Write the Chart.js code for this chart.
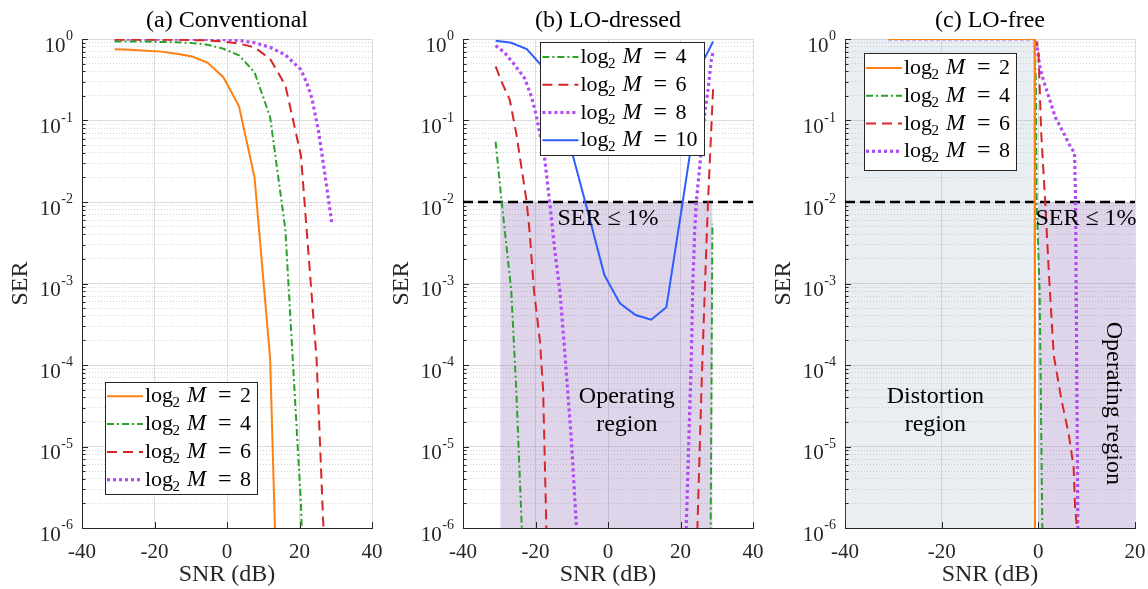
<!DOCTYPE html>
<html>
<head>
<meta charset="utf-8">
<script src="https://cdn.jsdelivr.net/npm/chart.js@4.4.1/dist/chart.umd.min.js"></script>
<style>
  html, body { margin: 0; padding: 0; background: #fff; overflow: hidden; }
  #wrap { position: relative; width: 1148px; height: 589px; }
  canvas { position: absolute; top: 0; }
</style>
</head>
<body>
<div id="wrap">
  <canvas id="chartA" width="392" height="589" style="left:0px"></canvas>
  <canvas id="chartB" width="392" height="589" style="left:381px"></canvas>
  <canvas id="chartC" width="385" height="589" style="left:763px"></canvas>
</div>
<script>
// SNR grid (dB) shared by most simulated curves
const snrGrid = [-31, -26.7, -22.4, -18.1, -13.9, -9.6, -5.3, -1, 3.3, 7.6, 11.9, 16.1, 20.4, 24.7, 29];

// (a) Conventional
const convSer2 = [0.75, 0.74, 0.72, 0.70, 0.66, 0.61, 0.51, 0.34, 0.15, 0.02, 1.2e-4, 3e-11, null, null, null];
const convSer4 = [0.93, 0.93, 0.93, 0.92, 0.91, 0.89, 0.85, 0.76, 0.63, 0.39, 0.11, 0.0046, 2e-6, 1e-12, null];
const convSer6 = [0.98, 0.98, 0.98, 0.98, 0.98, 0.97, 0.96, 0.93, 0.88, 0.79, 0.57, 0.27, 0.037, 1.2e-4, 2.5e-9];
const convSnr8 = [-31, -26.7, -22.4, -18.1, -13.9, -9.6, -5.3, -1, 3.3, 7.6, 11.9, 16.1, 20.4, 22, 23.4, 25.2, 27, 29];
const convSer8 = [0.995, 0.995, 0.995, 0.995, 0.995, 0.995, 0.99, 0.985, 0.96, 0.90, 0.79, 0.64, 0.42, 0.29, 0.19, 0.076, 0.022, 0.0052];

// (b) LO-dressed
const dressSnr4 = [-31, -29.4, -26.7, -25.3, -22.4, 0, 28.2, 28.8];
const dressSer4 = [0.055, 0.0107, 8.3e-4, 4.9e-5, 3e-8, null, 1e-7, 0.0054];
const dressSnr6 = [-31, -29, -27.1, -25.3, -23.9, -22.5, -21.6, -20.4, -18.8, -17.9, -17.0, -16.3, 0, 23.4, 24.7, 25.8, 26.7, 27.6, 29];
const dressSer6 = [0.46, 0.275, 0.18, 0.069, 0.027, 0.0105, 0.0042, 8e-4, 2e-4, 5e-5, 1e-6, 1e-8, null, 1e-8, 1.15e-6, 5.4e-5, 8.3e-4, 0.0105, 0.25];
const dressSnr8 = [-31, -28.5, -26.2, -23, -21.1, -19.8, -17.5, -16.1, -14.7, -13.3, -12, -10.1, -8.7, -7.5, 0,
                   20.5, 21.6, 22.3, 23, 23.4, 23.9, 24.4, 25.1, 25.8, 26.7, 27.6, 28.5, 29];
const dressSer8 = [0.83, 0.68, 0.51, 0.33, 0.195, 0.117, 0.035, 0.01, 2.6e-3, 8.3e-4, 1.6e-4, 1.2e-5, 1e-6, 3e-8, null,
                   1e-8, 1.1e-6, 1.2e-5, 1.3e-4, 1e-3, 4.2e-3, 0.0105, 0.022, 0.048, 0.123, 0.24, 0.55, 0.70];
const dressSnr10 = [-31, -26.7, -22.4, -18.1, -13.9, -9.6, -5.3, -1, 3.3, 7.6, 11.9, 16.1, 20.4, 24.7, 26.4, 29];
const dressSer10 = [0.95, 0.90, 0.75, 0.46, 0.14, 0.036, 0.0069, 0.00127, 5.7e-4, 4.1e-4, 3.6e-4, 5.1e-4, 0.0087, 0.16, 0.55, 0.93];

// (c) LO-free
const freeSnr2 = [-31, -0.8, -0.7];
const freeSer2 = [1, 1, 1e-9];
const freeSnr4 = [-31, -0.8, -0.5, -0.35, 0.27, 0.83, 0.95];
const freeSer4 = [1, 1, 0.3, 0.01, 8e-4, 1e-6, 1e-7];
const freeSnr6 = [-31, -0.8, 0, 0.6, 1.4, 2.3, 3.2, 4.8, 6.3, 7.3, 7.6, 8.0, 8.3];
const freeSer6 = [1, 1, 0.77, 0.07, 0.0105, 1e-3, 1.3e-4, 3.7e-5, 1.4e-5, 5.6e-6, 1.8e-6, 1e-6, 1e-8];
const freeSnr8 = [-31, -0.5, 0.3, 1.0, 3.5, 5.3, 6.6, 7.5, 7.7, 8.3];
const freeSer8 = [1, 1, 0.46, 0.32, 0.11, 0.069, 0.048, 0.04, 0.01, 1e-7];

// shaded regions and threshold
const serTarget = 1e-2;
const serLimits = [1e-6, 1e-2];
const serFull = [1e-6, 1];
const dressRegionSnr = [-29.7, 28.8];
const freeDistortionSnr = [-40, -1.2];
const freeOperatingSnr = [0, 20];

const serif = "'Liberation Serif', 'Times New Roman', serif";
const axisColor = '#262626';

const styles = {
    2: { color: '#ff8012', width: 2, dash: [] },
    4: { color: '#2ca02c', width: 2, dash: [7, 3, 2, 3] },
    6: { color: '#d62728', width: 2, dash: [10, 6] },
    8: { color: '#b24bf3', width: 3.2, dash: [3, 3] },
    10: { color: '#2d5cff', width: 2, dash: [] }
};

function series(order, xs, ys) {
    const s = styles[order];
    return {
        label: String(order),
        data: xs.map((x, i) => ({ x: x, y: ys[i] })),
        borderColor: s.color,
        borderWidth: s.width,
        borderDash: s.dash,
        borderCapStyle: 'butt',
        pointRadius: 0,
        tension: 0,
        fill: false,
        spanGaps: false
    };
}

function isDecade(v) {
    const l = Math.log10(v);
    return Math.abs(l - Math.round(l)) < 1e-9;
}

// regions, threshold, inner ticks, notes, y tick labels, legend
const extras = {
    id: 'extras',
    beforeDatasetsDraw(chart, args, opts) {
        const { ctx, chartArea: a, scales: { x, y } } = chart;
        ctx.save();
        ctx.beginPath();
        ctx.rect(a.left, a.top, a.right - a.left, a.bottom - a.top);
        ctx.clip();
        (opts.regions || []).forEach(r => {
            const x0 = x.getPixelForValue(r.x[0]), x1 = x.getPixelForValue(r.x[1]);
            const y0 = y.getPixelForValue(r.y[0]), y1 = y.getPixelForValue(r.y[1]);
            ctx.fillStyle = r.color;
            ctx.fillRect(x0, y1, x1 - x0, y0 - y1);
        });
        ctx.restore();

        ctx.save();
        ctx.strokeStyle = axisColor;
        ctx.lineWidth = 1;
        y.ticks.forEach(t => {
            const py = Math.round(y.getPixelForValue(t.value)) + 0.5;
            ctx.beginPath();
            ctx.moveTo(a.left, py);
            ctx.lineTo(a.left + (t.major ? 6 : 3.5), py);
            ctx.stroke();
        });
        x.ticks.forEach(t => {
            const px = Math.round(x.getPixelForValue(t.value)) + 0.5;
            ctx.beginPath();
            ctx.moveTo(px, a.bottom);
            ctx.lineTo(px, a.bottom - 6);
            ctx.stroke();
        });
        if (opts.threshold) {
            const py = y.getPixelForValue(opts.threshold);
            ctx.strokeStyle = '#000';
            ctx.lineWidth = 2.5;
            ctx.setLineDash([10, 5]);
            ctx.beginPath();
            ctx.moveTo(a.left, py);
            ctx.lineTo(a.right, py);
            ctx.stroke();
        }
        ctx.restore();
    },
    afterDatasetsDraw(chart, args, opts) {
        const { ctx, scales: { x, y } } = chart;
        ctx.save();
        ctx.fillStyle = '#000';
        ctx.font = '24px ' + serif;
        ctx.textBaseline = 'middle';
        (opts.notes || []).forEach(n => {
            const px = x.getPixelForValue(n.x), py = y.getPixelForValue(n.y);
            ctx.save();
            ctx.translate(px, py);
            if (n.rotate) ctx.rotate(n.rotate);
            ctx.textAlign = n.align || 'center';
            const lh = 28.5;
            n.lines.forEach((line, i) => {
                ctx.fillText(line, 0, (i - (n.lines.length - 1) / 2) * lh);
            });
            ctx.restore();
        });
        ctx.restore();
    },
    afterDraw(chart, args, opts) {
        const { ctx, chartArea: a, scales: { y } } = chart;
        // y tick labels 10^k
        ctx.save();
        ctx.fillStyle = axisColor;
        ctx.textBaseline = 'alphabetic';
        y.ticks.filter(t => t.major).forEach(t => {
            const py = y.getPixelForValue(t.value);
            const exp = String(Math.round(Math.log10(t.value)));
            ctx.font = '14px ' + serif;
            const wExp = ctx.measureText(exp).width;
            const xEnd = a.left - 9;
            ctx.textAlign = 'left';
            ctx.fillText(exp, xEnd - wExp, py + 1);
            ctx.font = '21px ' + serif;
            ctx.textAlign = 'right';
            ctx.fillText('10', xEnd - wExp - 0.5, py + 12.8);
        });
        ctx.restore();

        // legend
        const lg = opts.legend;
        if (!lg) return;
        const left = a.left + lg.left, top = a.top + lg.top;
        ctx.save();
        ctx.fillStyle = '#fff';
        ctx.fillRect(left, top, lg.width, lg.height);
        ctx.strokeStyle = axisColor;
        ctx.lineWidth = 1;
        ctx.strokeRect(Math.round(left) + 0.5, Math.round(top) + 0.5, lg.width, lg.height);
        chart.data.datasets.forEach((ds, i) => {
            const cy = top + 14.6 + i * 27.8;
            ctx.save();
            ctx.strokeStyle = ds.borderColor;
            ctx.lineWidth = ds.borderWidth;
            ctx.setLineDash(ds.borderDash);
            ctx.beginPath();
            ctx.moveTo(left + 2, cy);
            ctx.lineTo(left + 38, cy);
            ctx.stroke();
            ctx.restore();
            const tx = left + 40, base = cy + 6;
            ctx.fillStyle = '#000';
            ctx.textAlign = 'left';
            ctx.textBaseline = 'alphabetic';
            ctx.font = '22px ' + serif;
            ctx.fillText('log', tx, base);
            ctx.font = '15px ' + serif;
            ctx.fillText('2', tx + 27.5, base + 5);
            ctx.font = 'italic 23px ' + serif;
            ctx.fillText('M', tx + 42, base);
            ctx.font = '24px ' + serif;
            ctx.fillText('=', tx + 73, base);
            ctx.font = '22px ' + serif;
            ctx.fillText(ds.label, tx + 95, base);
        });
        ctx.restore();
    }
};

const yTickValues = [];
for (let e = -6; e <= 0; e++) {
    for (let m = 1; m <= 9; m++) {
        const v = m * Math.pow(10, e);
        if (v <= 1.0000001) yTickValues.push(v);
    }
}

function makeChart(id, title, xMax, padRight, datasets, extraOpts) {
    return new Chart(document.getElementById(id), {
        type: 'line',
        data: { datasets: datasets },
        plugins: [extras],
        options: {
            responsive: false,
            animation: false,
            devicePixelRatio: 1,
            layout: { padding: { left: 0, right: padRight, top: 0, bottom: 0 } },
            plugins: {
                legend: { display: false },
                tooltip: { enabled: false },
                title: {
                    display: true,
                    text: title,
                    fullSize: false,
                    color: '#000',
                    font: { family: serif, size: 24, weight: 'normal' },
                    padding: { top: 6, bottom: 4.2 }
                },
                extras: extraOpts
            },
            scales: {
                x: {
                    type: 'linear',
                    min: -40,
                    max: xMax,
                    ticks: { stepSize: 20, color: axisColor, padding: 12, maxRotation: 0, font: { family: serif, size: 21 } },
                    grid: { color: '#dedede', drawTicks: false },
                    border: { color: axisColor, width: 1 },
                    title: { display: true, text: 'SNR (dB)', color: axisColor, font: { family: serif, size: 24 }, padding: { top: 0, bottom: 0 } },
                    afterFit: s => {
                        s.height = 61;
                        // keep the plot box fixed; end labels may overhang into the margins
                        s.paddingLeft = 0;
                        s.paddingRight = 0;
                    }
                },
                y: {
                    type: 'logarithmic',
                    min: 1e-6,
                    max: 1,
                    afterBuildTicks: s => {
                        s.ticks = yTickValues.map(v => ({ value: v, major: isDecade(v) }));
                    },
                    ticks: { display: false },
                    grid: {
                        drawTicks: false,
                        color: c => (c.tick && c.tick.major) ? '#dcdcdc' : '#d6d6d6'
                    },
                    border: {
                        color: axisColor,
                        width: 1,
                        dash: c => (c.tick && !c.tick.major) ? [1, 2] : []
                    },
                    title: { display: true, text: 'SER', color: axisColor, font: { family: serif, size: 24 }, padding: { top: 6, bottom: 0 } },
                    afterFit: s => { s.width = 82; }
                }
            }
        }
    });
}

const purpleFill = 'rgba(126, 87, 170, 0.25)';
const greyFill = 'rgba(130, 160, 180, 0.18)';

makeChart('chartA', '(a) Conventional', 40, 20, [
    series(2, snrGrid, convSer2),
    series(4, snrGrid, convSer4),
    series(6, snrGrid, convSer6),
    series(8, convSnr8, convSer8)
], {
    legend: { left: 23, top: 342.7, width: 152, height: 112 }
});

makeChart('chartB', '(b) LO-dressed', 40, 20, [
    series(4, dressSnr4, dressSer4),
    series(6, dressSnr6, dressSer6),
    series(8, dressSnr8, dressSer8),
    series(10, dressSnr10, dressSer10)
], {
    regions: [{ x: dressRegionSnr, y: serLimits, color: purpleFill }],
    threshold: serTarget,
    notes: [
        { x: 0, y: Math.pow(10, -2.2), lines: ['SER \u2264 1%'] },
        { x: 5.2, y: Math.pow(10, -4.56), lines: ['Operating', 'region'] }
    ],
    legend: { left: 77.4, top: 3.3, width: 164, height: 113 }
});

makeChart('chartC', '(c) LO-free', 20, 13, [
    series(2, freeSnr2, freeSer2),
    series(4, freeSnr4, freeSer4),
    series(6, freeSnr6, freeSer6),
    series(8, freeSnr8, freeSer8)
], {
    regions: [
        { x: freeDistortionSnr, y: serFull, color: greyFill },
        { x: freeOperatingSnr, y: serLimits, color: purpleFill }
    ],
    threshold: serTarget,
    notes: [
        { x: -0.6, y: Math.pow(10, -2.2), lines: ['SER \u2264 1%'], align: 'left' },
        { x: -21.3, y: Math.pow(10, -4.56), lines: ['Distortion', 'region'] },
        { x: 15.6, y: Math.pow(10, -4.47), lines: ['Operating region'], rotate: Math.PI / 2 }
    ],
    legend: { left: 19, top: 14.3, width: 152, height: 117 }
});
</script>
</body>
</html>
